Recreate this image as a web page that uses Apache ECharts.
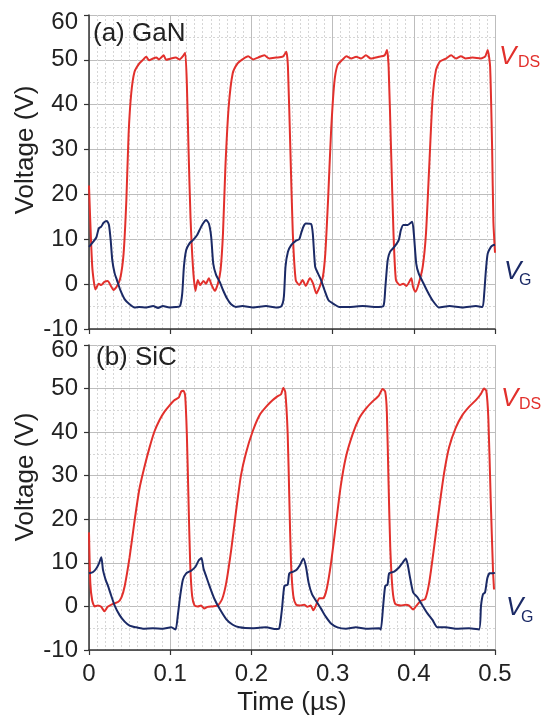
<!DOCTYPE html>
<html>
<head>
<meta charset="utf-8">
<script src="https://cdn.jsdelivr.net/npm/echarts@6/dist/echarts.min.js"></script>
<style>html,body{margin:0;padding:0;background:#fff}#c{width:543px;height:717px}</style>
</head>
<body>
<div id="c"></div>
<script>
// ---- data (time in µs, voltage in V) ----
var xTicks = [0, 0.1, 0.2, 0.3, 0.4, 0.5];
var yTicks = [-10, 0, 10, 20, 30, 40, 50, 60];
var panelLabels = ['(a) GaN', '(b) SiC'];

var ganVds = [
 [0,22],[0.004,3.9],[0.008,-1.2],[0.012,0.1],[0.015,-0.2],[0.019,0.5],[0.023,0.7],[0.027,-0.4],[0.030,-1.3],[0.034,-0.6],
 [0.0385,1.3],[0.0426,6.8],[0.046,18.7],[0.0488,33.6],[0.052,42.5],[0.056,47.3],[0.062,49.2],[0.067,50.1],[0.0705,50.7],
 [0.074,49.9],[0.079,50.3],[0.083,50.5],[0.086,50.1],[0.092,51],[0.095,50],[0.101,50.3],[0.107,50.5],[0.1115,50.1],
 [0.1156,50.8],[0.1185,51.6],[0.1205,44.7],[0.1226,29.9],[0.125,15],[0.128,3.9],[0.131,-1.5],[0.134,0.9],[0.137,-0.2],
 [0.141,0.7],[0.144,0.1],[0.1476,1.3],[0.151,-0.2],[0.155,-1.5],[0.1587,0.1],[0.162,3.1],[0.165,11.3],[0.168,26.2],
 [0.172,39.5],[0.177,47],[0.183,49.2],[0.189,50.1],[0.196,50.8],[0.202,50.1],[0.208,50.5],[0.216,51],[0.222,50.3],
 [0.2304,50.5],[0.2386,50.7],[0.243,51.8],[0.245,48.4],[0.248,29.9],[0.251,11.3],[0.2546,0.9],[0.259,-0.2],[0.263,0.9],
 [0.267,-0.4],[0.272,1.3],[0.276,0.1],[0.280,-2.1],[0.284,-0.6],[0.288,1.6],[0.291,6.8],[0.2944,18.7],[0.298,33.6],
 [0.302,44.7],[0.306,48.8],[0.3125,50.1],[0.317,50.8],[0.323,50.3],[0.329,50.7],[0.335,50.3],[0.341,51],[0.347,50.3],
 [0.357,50.7],[0.364,51],[0.367,52.2],[0.369,48.4],[0.372,29.9],[0.375,11.3],[0.378,0.9],[0.383,-0.2],[0.387,0.1],
 [0.391,-0.4],[0.397,1.3],[0.399,-0.6],[0.402,-1.7],[0.406,0.1],[0.411,3.9],[0.415,11.3],[0.419,26.2],[0.423,41],
 [0.4273,47.7],[0.432,49.6],[0.4396,50.3],[0.446,51],[0.452,50.3],[0.458,50.8],[0.464,50.3],[0.4723,50.5],[0.4826,50.3],
 [0.488,50.8],[0.491,52.2],[0.494,48.4],[0.4965,29.9],[0.498,14],[0.5,7]
];

var ganVg = [
 [0,8.3],[0.005,9.4],[0.009,10.4],[0.012,12.4],[0.015,12.8],[0.018,13.7],[0.022,14.1],[0.0246,13.2],[0.0267,9.8],
 [0.0287,5.3],[0.0316,2.4],[0.0344,0.9],[0.0385,-1.3],[0.044,-3.4],[0.050,-4.5],[0.056,-5.2],[0.062,-5.1],[0.0705,-5.2],
 [0.079,-4.9],[0.085,-5.3],[0.091,-4.9],[0.099,-5.2],[0.107,-5.1],[0.112,-4.9],[0.1148,-2.1],[0.1169,3.9],[0.1197,7.6],
 [0.1238,9.1],[0.128,9.8],[0.133,10.9],[0.136,12],[0.140,13.4],[0.1443,14.3],[0.1476,13.5],[0.1505,10.5],[0.153,4.6],
 [0.1566,2],[0.161,0.5],[0.165,-1.3],[0.170,-3.2],[0.175,-4.5],[0.181,-5.1],[0.189,-4.9],[0.202,-5.2],[0.218,-4.9],
 [0.230,-5.2],[0.237,-4.9],[0.240,-2.8],[0.242,3.9],[0.245,7.2],[0.249,8.7],[0.255,9.7],[0.259,10],[0.2612,11.3],
 [0.264,12.8],[0.267,13.5],[0.2735,13.4],[0.2756,11.3],[0.2785,3.9],[0.2817,2.5],[0.2858,0.9],[0.290,-1.3],[0.295,-3.6],
 [0.302,-4.5],[0.308,-5.1],[0.321,-5.1],[0.337,-4.9],[0.353,-5.1],[0.3625,-4.9],[0.365,-0.6],[0.3678,5.3],[0.3707,7.2],
 [0.376,8.3],[0.3814,9.8],[0.384,12],[0.387,13.2],[0.3925,13.2],[0.398,13.9],[0.400,11.3],[0.403,4.6],[0.406,2.4],
 [0.411,0.5],[0.417,-1.7],[0.423,-3.6],[0.431,-5.2],[0.444,-4.9],[0.460,-5.2],[0.4765,-4.9],[0.4846,-5.1],[0.4867,-2.1],
 [0.4888,3.1],[0.491,6.8],[0.495,8.3],[0.4978,8.7],[0.5,8.8]
];

var sicVds = [
 [0,17],[0.0016,5.4],[0.004,1.3],[0.007,0],[0.011,0.2],[0.015,-0.1],[0.019,-1.1],[0.023,-0.1],[0.0295,0.6],[0.0357,1],
 [0.040,2.1],[0.044,4.7],[0.050,11.3],[0.056,19.5],[0.062,26.9],[0.0684,32.1],[0.0746,36.5],[0.0807,40.2],[0.0869,42.8],
 [0.093,44.7],[0.099,46.1],[0.105,47.3],[0.1107,48],[0.1135,49.3],[0.1164,49.5],[0.1184,48.4],[0.1205,39.5],[0.1225,24.7],
 [0.1246,9.9],[0.127,2.4],[0.130,0.2],[0.134,0],[0.138,0.2],[0.142,-0.5],[0.146,-0.1],[0.1525,0],[0.1586,0.2],[0.164,1.7],
 [0.169,5.4],[0.175,12.8],[0.181,21.7],[0.187,29.9],[0.193,35],[0.2016,40.2],[0.210,43.9],[0.218,45.8],[0.226,47.3],
 [0.232,48.2],[0.2365,48.7],[0.2393,50.2],[0.2418,49.1],[0.2447,39.5],[0.2467,24.7],[0.2488,9.9],[0.2516,2.4],[0.255,0.4],
 [0.2598,0.2],[0.265,0.4],[0.269,-0.1],[0.273,0.2],[0.2762,-0.9],[0.2795,0.2],[0.2836,1.9],[0.2885,1.9],[0.2926,3.9],
 [0.298,9.9],[0.304,18.7],[0.310,27.6],[0.3164,34.3],[0.3246,39.5],[0.3328,43.2],[0.341,45.4],[0.349,47],[0.357,48.4],
 [0.3615,49.9],[0.3648,49.3],[0.3668,44.7],[0.3689,28.4],[0.371,13.6],[0.3738,3.9],[0.377,0.6],[0.384,0.2],[0.390,0.4],
 [0.3943,0.2],[0.3992,-0.7],[0.4033,0.2],[0.4086,1.3],[0.414,1.7],[0.4189,5.4],[0.425,13.6],[0.4311,22.4],[0.4373,30.6],
 [0.4434,36.5],[0.4516,41],[0.4598,43.9],[0.468,45.8],[0.4762,47.3],[0.4824,48.7],[0.4865,50],[0.4893,49.5],[0.4918,43.2],
 [0.4947,24.7],[0.4975,8.4],[0.4988,3.9]
];

var sicVg = [
 [0,7.6],[0.005,7.9],[0.009,8.7],[0.0123,9.9],[0.0152,11.3],[0.0172,8.4],[0.0205,6.1],[0.0234,4.7],[0.0275,2.4],
 [0.0316,0.2],[0.0377,-2],[0.0439,-3.5],[0.050,-4.4],[0.0582,-4.8],[0.0664,-5.1],[0.0787,-5],[0.091,-5.1],[0.1012,-4.8],
 [0.1066,-5.3],[0.1094,-2],[0.1123,2.4],[0.1156,6.1],[0.1197,7.6],[0.1258,8.2],[0.1311,9.1],[0.1352,10.6],[0.1385,11.1],
 [0.141,8.7],[0.1443,6.9],[0.1484,4.7],[0.1545,1.7],[0.1607,-0.5],[0.1689,-2.9],[0.177,-4.2],[0.1852,-4.8],[0.2016,-5],
 [0.218,-4.8],[0.2303,-5.2],[0.2344,-5],[0.2377,-0.5],[0.2406,4.7],[0.2447,5],[0.2467,7.6],[0.2516,8],[0.2557,8.4],
 [0.2598,9.5],[0.264,11],[0.2672,9.1],[0.2705,5.4],[0.2746,2.8],[0.2795,1.3],[0.2857,-0.5],[0.2918,-2.4],[0.298,-3.9],
 [0.3061,-4.8],[0.3164,-5.1],[0.3287,-4.8],[0.341,-5.1],[0.3574,-5],[0.3594,-5.3],[0.3623,0.2],[0.3648,4.7],[0.3676,5],
 [0.3697,7.6],[0.3758,8],[0.382,9],[0.3861,10],[0.3902,11],[0.3926,9.5],[0.3951,6.9],[0.3992,3.2],[0.4045,2.1],
 [0.4107,0.2],[0.4168,-1.6],[0.423,-3.1],[0.4291,-4.8],[0.4393,-4.8],[0.4516,-5.1],[0.468,-5],[0.4803,-5.3],[0.4828,0.2],
 [0.4852,2.8],[0.4877,3.2],[0.4906,6.5],[0.4934,7.6],[0.4975,7.6],[0.5,7.7]
];

// ---- chart ----
var FONT = 'Liberation Sans';
var RED = '#e2302c';
var NAVY = '#1b2a66';
var chart = echarts.init(document.getElementById('c'), null, {renderer: 'canvas'});

function xAxisCfg(gi, showLabels) {
  return {
    type: 'value', gridIndex: gi, min: xTicks[0], max: xTicks[xTicks.length - 1], interval: 0.1,
    axisLine: {show: true, onZero: false, lineStyle: {color: '#333', width: 1.5}},
    axisTick: {show: true, inside: false, length: 5, lineStyle: {color: '#333', width: 1.2}},
    axisLabel: {show: showLabels, margin: 12, fontFamily: FONT, fontSize: 24, color: '#222',
      formatter: function (v) { return String(Math.round(v * 10) / 10); }},
    splitLine: {show: true, lineStyle: {color: '#bdbdbd', width: 1}},
    minorTick: {show: false, splitNumber: 10},
    minorSplitLine: {show: true, lineStyle: {color: '#d6d6d6', width: 1, type: [2, 2]}},
    name: showLabels ? 'Time (µs)' : '', nameLocation: 'middle', nameGap: 40,
    nameTextStyle: {fontFamily: FONT, fontSize: 26, color: '#222'}
  };
}
function yAxisCfg(gi, topPad) {
  return {
    type: 'value', gridIndex: gi, min: yTicks[0], max: yTicks[yTicks.length - 1], interval: 10,
    axisLine: {show: true, onZero: false, lineStyle: {color: '#333', width: 1.5}},
    axisTick: {show: true, inside: false, length: 5, lineStyle: {color: '#333', width: 1.2}},
    axisLabel: {margin: 11, fontFamily: FONT, fontSize: 24, color: '#222',
      formatter: function (v) { return v === yTicks[yTicks.length - 1] ? '{t|' + v + '}' : String(v); },
      rich: {t: {fontFamily: FONT, fontSize: 24, color: '#222', padding: [topPad, 0, 0, 0]}}},
    splitLine: {show: true, lineStyle: {color: '#bdbdbd', width: 1}},
    minorTick: {show: false, splitNumber: 2},
    minorSplitLine: {show: true, lineStyle: {color: '#d6d6d6', width: 1, type: [2, 2]}}
  };
}
function lineSeries(name, data, xi, color) {
  return {type: 'line', name: name, xAxisIndex: xi, yAxisIndex: xi, data: data, showSymbol: false,
    symbol: 'none', smooth: 0.2, lineStyle: {color: color, width: 2}, itemStyle: {color: color},
    animation: false, z: color === RED ? 3 : 4};
}
function txt(text, x, y, size, color, opts) {
  var st = {text: text, x: 0, y: 0, fontFamily: FONT, fontSize: size, fill: color,
    textAlign: (opts && opts.align) || 'left', textVerticalAlign: (opts && opts.valign) || 'middle',
    fontStyle: (opts && opts.italic) ? 'italic' : 'normal'};
  return {type: 'text', x: x, y: y, rotation: (opts && opts.rot) || 0, style: st, z: 100};
}

var option = {
  backgroundColor: '#fff',
  animation: false,
  grid: [
    {left: 89, top: 15, width: 406, height: 314, containLabel: false},
    {left: 89, top: 345, width: 406, height: 308, containLabel: false}
  ],
  xAxis: [xAxisCfg(0, false), xAxisCfg(1, true)],
  yAxis: [yAxisCfg(0, 14), yAxisCfg(1, 10)],
  series: [
    lineSeries('GaN VDS', ganVds, 0, RED),
    lineSeries('GaN VG', ganVg, 0, NAVY),
    lineSeries('SiC VDS', sicVds, 1, RED),
    lineSeries('SiC VG', sicVg, 1, NAVY)
  ],
  graphic: [
    txt(panelLabels[0], 93, 34, 26, '#222'),
    txt(panelLabels[1], 96, 358, 26, '#222'),
    txt('Voltage (V)', 26, 150, 26, '#222', {align: 'center', rot: Math.PI / 2}),
    txt('Voltage (V)', 26, 477, 26, '#222', {align: 'center', rot: Math.PI / 2}),
    txt('V', 499, 57, 26, RED, {italic: true}),
    txt('DS', 518, 63, 16, RED),
    txt('V', 504, 272, 26, NAVY, {italic: true}),
    txt('G', 519, 281, 16, NAVY),
    txt('V', 501, 399, 26, RED, {italic: true}),
    txt('DS', 519, 405, 16, RED),
    txt('V', 506, 608, 26, NAVY, {italic: true}),
    txt('G', 521, 618, 16, NAVY)
  ]
};
chart.setOption(option);
</script>
</body>
</html>
